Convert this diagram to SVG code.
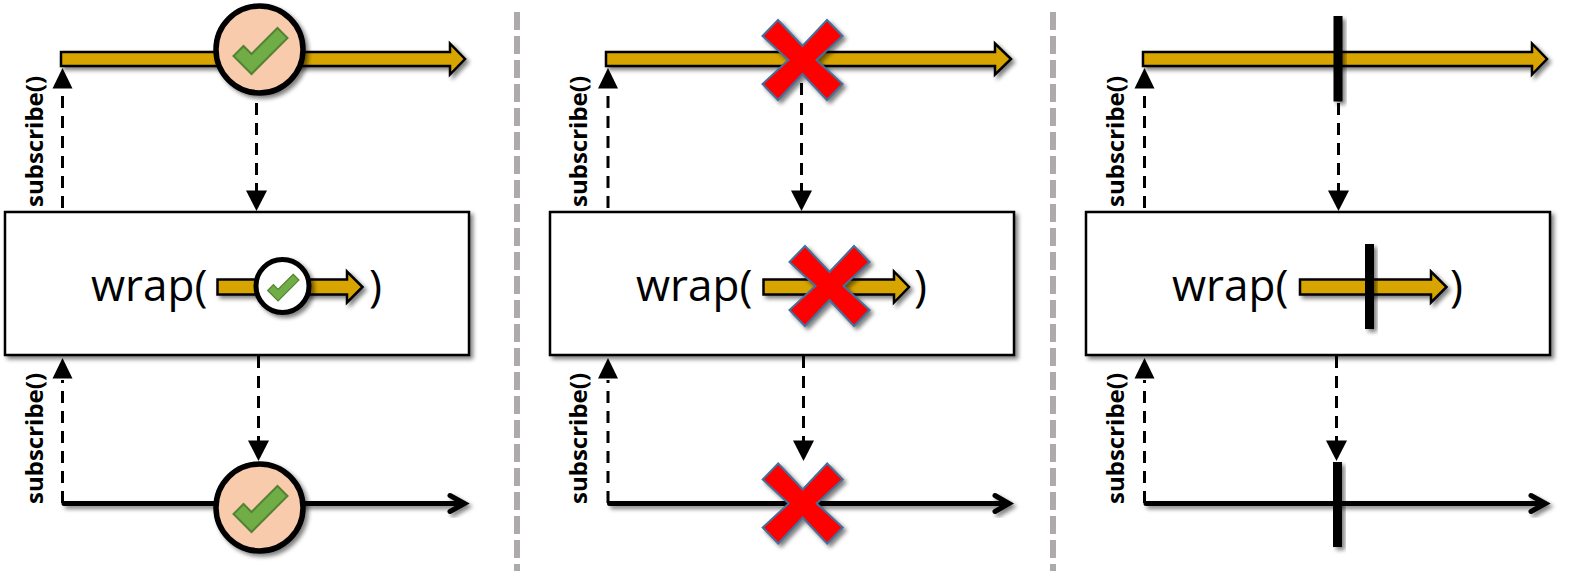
<svg xmlns="http://www.w3.org/2000/svg" xmlns:xlink="http://www.w3.org/1999/xlink" width="1587" height="575" viewBox="0 0 1587 575">
<style>
.flux{fill:#d8a500;stroke:#000;stroke-width:2.5;filter:url(#sh)}
.box{fill:#fff;stroke:#000;stroke-width:2.5;filter:url(#sh)}
.dash{fill:none;stroke:#000;stroke-width:3;stroke-dasharray:12 8}
.head{fill:#000}
.line{fill:none;stroke:#000;stroke-width:5;stroke-linecap:round;filter:url(#sh)}
.bar{fill:#000;filter:url(#sh)}
.x{fill:#f00;stroke:#41719c;stroke-width:2;filter:url(#sh)}
.big{fill:#f8cbad;stroke:#000;stroke-width:5.5;filter:url(#sh)}
.small{fill:#fff;stroke:#000;stroke-width:5;filter:url(#sh)}
.check{fill:#70ad47;stroke:#548235;stroke-width:2}
.sub{font-family:"Open Sans","Liberation Sans",sans-serif;font-weight:700;font-size:24px;fill:#000}
.wrap{font-family:"Open Sans","Liberation Sans",sans-serif;font-size:44px;fill:#000}
.sep{fill:none;stroke:#aeaaaa;stroke-width:6;stroke-dasharray:18 6}
</style>
<defs>
<filter id="sh" x="-30%" y="-30%" width="170%" height="170%" color-interpolation-filters="sRGB">
<feGaussianBlur in="SourceAlpha" stdDeviation="2"/>
<feOffset dx="3" dy="3"/>
<feComponentTransfer><feFuncA type="linear" slope="0.5"/></feComponentTransfer>
<feMerge><feMergeNode/><feMergeNode in="SourceGraphic"/></feMerge>
</filter>
<polygon id="xm" class="x" points="0,-14 24.5,-40 40,-24 14,0 40,24 24.5,40 0,14 -24.5,40 -40,24 -14,0 -40,-24 -24.5,-40"/>
<polygon id="ck" class="check" points="17.5,-22 27.5,-12 -8.5,24 -26.5,6 -16.5,-4 -8.5,4"/>
</defs>

<g id="separators">
<line class="sep" x1="517" y1="12" x2="517" y2="571"/>
<line class="sep" x1="1053" y1="12" x2="1053" y2="571"/>
</g>

<g id="connectors">
<path class="dash" d="M62.5 208V90"/><polygon class="head" points="62.5,68 72.5,88.500 52.500,88.500"/>
<path class="dash" d="M256.500 103V192"/><polygon class="head" points="256.500,211 246,190.500 267,190.500"/>
<path class="dash" d="M62.500 503V380"/><polygon class="head" points="62.500,358 72.500,378.500 52.500,378.500"/>
<path class="dash" d="M258.500 356V442"/><polygon class="head" points="258.500,461 248,440.500 269,440.500"/>

<path class="dash" d="M608 208V90"/><polygon class="head" points="608,68 618,88.500 598,88.500"/>
<path class="dash" d="M801.500 83V192"/><polygon class="head" points="801.500,211 791,190.500 812,190.500"/>
<path class="dash" d="M608 503V380"/><polygon class="head" points="608,358 618,378.500 598,378.500"/>
<path class="dash" d="M803.500 356V442"/><polygon class="head" points="803.500,461 793,440.500 814,440.500"/>

<path class="dash" d="M1144.500 208V90"/><polygon class="head" points="1144.500,68 1154.500,88.500 1134.500,88.500"/>
<path class="dash" d="M1338.500 103V192"/><polygon class="head" points="1338.500,211 1328,190.500 1349,190.500"/>
<path class="dash" d="M1144.500 503V380"/><polygon class="head" points="1144.500,358 1154.500,378.500 1134.500,378.500"/>
<path class="dash" d="M1336.500 356V442"/><polygon class="head" points="1336.500,461 1326,440.500 1347,440.500"/>
</g>

<g id="panel1">
<g id="p1-source"><polygon class="flux" points="61,52 450,52 450,43.500 465,59 450,74.500 450,66 61,66"/></g>
<g id="p1-source-event"><circle class="big" cx="259.500" cy="49.500" r="43.500"/><use xlink:href="#ck" href="#ck" x="260" y="50"/></g>
<text class="sub" transform="translate(43 207) rotate(-90)">subscribe()</text>
<g id="p1-wrap"><rect class="box" x="5" y="212" width="464" height="143"/>
<text class="wrap" x="91" y="301">wrap(</text><text class="wrap" x="369" y="301">)</text>
<polygon class="flux" points="217.500,279.500 347,279.500 347,271.500 362.500,287 347,302.500 347,294.500 217.500,294.500"/>
<circle class="small" cx="282.500" cy="286" r="26.500"/><use xlink:href="#ck" href="#ck" transform="translate(283 287) scale(.58)"/></g>
<text class="sub" transform="translate(43 504) rotate(-90)">subscribe()</text>
<g id="p1-result"><path class="line" d="M64 503.500H464.500M450 495.500L464.500 503.500L450 511.500"/>
<circle class="big" cx="259.500" cy="507.500" r="43.500"/><use xlink:href="#ck" href="#ck" x="260" y="508"/></g>
</g>

<g id="panel2">
<g id="p2-source"><polygon class="flux" points="606,52 995,52 995,43.500 1011,59 995,74.500 995,66 606,66"/></g>
<g id="p2-source-event"><use xlink:href="#xm" href="#xm" x="802.500" y="60"/></g>
<text class="sub" transform="translate(587 207) rotate(-90)">subscribe()</text>
<g id="p2-wrap"><rect class="box" x="550" y="212" width="464" height="143"/>
<text class="wrap" x="636" y="301">wrap(</text><text class="wrap" x="914" y="301">)</text>
<polygon class="flux" points="763.500,279.500 894,279.500 894,271.500 909,287 894,302.500 894,294.500 763.500,294.500"/>
<use xlink:href="#xm" href="#xm" x="829.500" y="286"/></g>
<text class="sub" transform="translate(587 504) rotate(-90)">subscribe()</text>
<g id="p2-result"><path class="line" d="M609.500 503.500H1009M995 495.500L1009 503.500L995 511.500"/>
<use xlink:href="#xm" href="#xm" x="802.700" y="503.500"/></g>
</g>

<g id="panel3">
<g id="p3-source"><polygon class="flux" points="1143,52 1532,52 1532,43.500 1547,59 1532,74.500 1532,66 1143,66"/></g>
<g id="p3-source-event"><rect class="bar" x="1333.500" y="16" width="9" height="85.500"/></g>
<text class="sub" transform="translate(1124 207) rotate(-90)">subscribe()</text>
<g id="p3-wrap"><rect class="box" x="1086" y="212" width="464" height="143"/>
<text class="wrap" x="1172" y="301">wrap(</text><text class="wrap" x="1450" y="301">)</text>
<polygon class="flux" points="1300,279.500 1431,279.500 1431,271.500 1446.500,287 1431,302.500 1431,294.500 1300,294.500"/>
<rect class="bar" x="1365" y="244" width="9" height="85"/></g>
<text class="sub" transform="translate(1124 504) rotate(-90)">subscribe()</text>
<g id="p3-result"><path class="line" d="M1146 503.500H1545.500M1531 495.500L1545.500 503.500L1531 511.500"/>
<rect class="bar" x="1333" y="462" width="9" height="85"/></g>
</g>
</svg>
